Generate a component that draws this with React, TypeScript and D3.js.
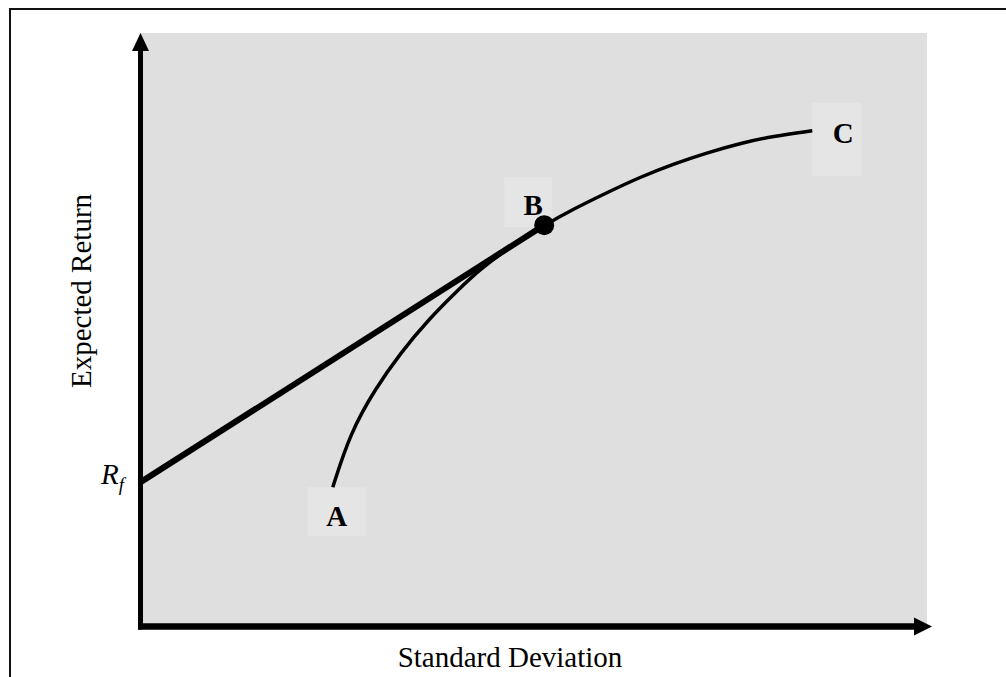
import * as d3 from 'd3';

// efficient frontier (x = std dev, y = expected return, 0-100 units)
const frontierSd = [24.4, 26.6, 29.8, 33.0, 36.5, 40.6, 43.1, 46.6, 51.3, 55.0, 59.3, 63.5, 67.7, 72.0, 76.2, 80.4, 85.4];
const frontierRet = [23.4, 32.5, 40.0, 46.0, 51.6, 57.0, 60.1, 63.6, 67.6, 70.3, 73.1, 75.7, 77.9, 79.8, 81.4, 82.6, 83.5];

// capital market line: risk free rate to tangency portfolio B
const riskFree = 24.3;
const tangencySd = 51.3;
const tangencyRet = 67.6;

const pointNames = ['A', 'B', 'C'];
const pointIdx = [0, 8, frontierSd.length - 1];

const xTitle = 'Standard Deviation';
const yTitle = 'Expected Return';

const W = 1006;
const H = 677;
const m = { l: 141, r: 927, t: 33, b: 626 };
const font = '"Liberation Serif", "Times New Roman", serif';

export default function App() {
  const x = d3.scaleLinear().domain([0, 100]).range([m.l, m.r]);
  const y = d3.scaleLinear().domain([0, 100]).range([m.b, m.t]);

  const pts = frontierSd.map((s, i) => [s, frontierRet[i]] as [number, number]);
  const frontier = d3.line<[number, number]>()
    .x(d => x(d[0]))
    .y(d => y(d[1]))
    .curve(d3.curveBasis)(pts) || '';

  const cml = d3.line<[number, number]>()
    .x(d => x(d[0]))
    .y(d => y(d[1]))([[0, riskFree], [tangencySd, tangencyRet]]) || '';

  // label boxes relative to their point (box x, box y, w, h, text x, text baseline)
  const lab = pointIdx.map((i, k) => {
    const px = x(frontierSd[i]);
    const py = y(frontierRet[i]);
    if (k === 0) return { bx: px - 25, by: py, bw: 58, bh: 49, tx: px + 4, ty: py + 39 };
    if (k === 1) return { bx: px - 40, by: py - 48, bw: 48, bh: 50, tx: px - 11, ty: py - 10 };
    return { bx: px, by: py - 28, bw: 49, bh: 73, tx: px + 31, ty: py + 12 };
  });

  const ax = x(0) - 0.5;
  const ay = y(0) + 0.5;

  return (
    <div style={{ position: 'absolute', left: 0, top: 0 }}>
      <svg width={W} height={H} style={{ display: 'block', fontFamily: font }}>
        <rect x={0} y={0} width={W} height={H} fill="#fff" />
        <rect x={10} y={9} width={1010} height={700} fill="none" stroke="#111" strokeWidth={2} />

        <rect x={m.l} y={m.t} width={m.r - m.l} height={m.b - m.t} fill="#dfdfdf" />

        {lab.map((l, k) => (
          <rect key={k} x={l.bx} y={l.by} width={l.bw} height={l.bh} fill="#e5e5e5" />
        ))}

        <path d={frontier} fill="none" stroke="#000" strokeWidth={3.5} />
        <path d={cml} fill="none" stroke="#000" strokeWidth={6} />
        <circle cx={x(tangencySd)} cy={y(tangencyRet)} r={10} fill="#000" />

        {/* axes */}
        <line x1={ax} y1={ay + 3} x2={ax} y2={m.t + 16} stroke="#000" strokeWidth={5} />
        <path d={`M${ax},${m.t} L${ax - 8.5},${m.t + 18} L${ax + 8.5},${m.t + 18} Z`} fill="#000" />
        <line x1={ax - 2.5} y1={ay} x2={m.r - 12} y2={ay} stroke="#000" strokeWidth={6.5} />
        <path d={`M${m.r + 5},${ay} L${m.r - 13},${ay - 9} L${m.r - 13},${ay + 9} Z`} fill="#000" />

        {lab.map((l, k) => (
          <text key={k} x={l.tx} y={l.ty} textAnchor="middle" fontSize={29} fontWeight="bold" fill="#000">
            {pointNames[k]}
          </text>
        ))}

        <text x={101} y={y(riskFree) + 2} fontSize={29} fontStyle="italic" fill="#000">
          R<tspan fontSize={19} dy={7}>f</tspan>
        </text>

        <text x={510} y={667} textAnchor="middle" fontSize={29} fill="#000">{xTitle}</text>
        <text transform={`translate(91,${291}) rotate(-90)`} textAnchor="middle" fontSize={29} fill="#000">
          {yTitle}
        </text>
      </svg>
    </div>
  );
}
